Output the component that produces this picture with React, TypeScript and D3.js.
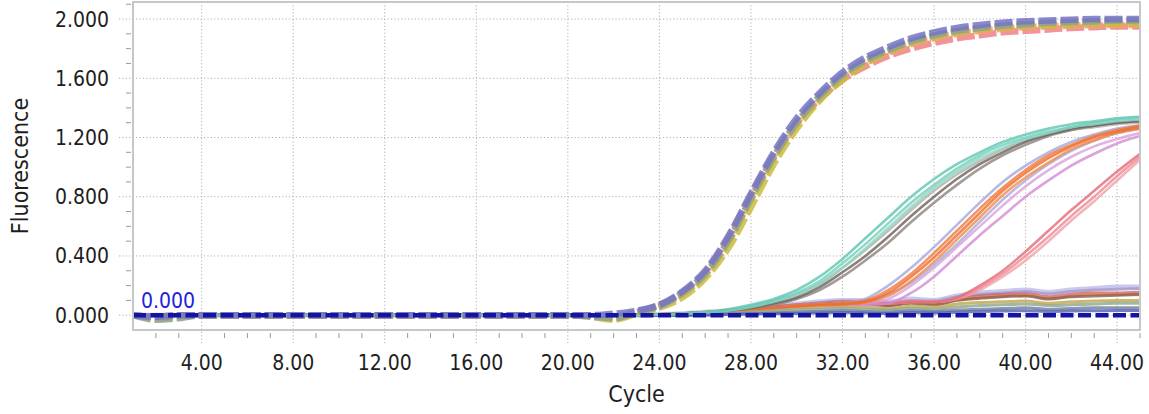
import React from "react";
import * as d3 from "d3";

// ---------- data ----------
const cycles = [1,2,3,4,5,6,7,8,9,10,11,12,13,14,15,16,17,18,19,20,21,22,23,24,25,26,27,28,29,30,31,32,33,34,35,36,37,38,39,40,41,42,43,44,45];

const xTickValues = [4, 8, 12, 16, 20, 24, 28, 32, 36, 40, 44];
const yTickValues = [0, 0.4, 0.8, 1.2, 1.6, 2.0];
const thresholdValue = 0.0;

// early-amplifying group (drawn dashed), c1..c45
const topPurple = [0,-0.01,0,0,0,0,0,0,0,0,0,0,0,0,0,0,0,0,0,0,0,0.01,0.03,0.07,0.16,0.30,0.53,0.82,1.10,1.33,1.50,1.64,1.74,1.81,1.87,1.91,1.94,1.96,1.975,1.985,1.99,1.995,2.0,2.0,2.0];
const topGray = [0,-0.03,-0.02,0,0,0,0,0,0,0,0,0,0,0,0,0,0,0,0,0,-0.01,-0.02,0.02,0.06,0.15,0.28,0.50,0.79,1.07,1.30,1.48,1.62,1.72,1.79,1.85,1.89,1.92,1.94,1.955,1.965,1.975,1.98,1.985,1.99,1.99];
const topYellow = [0,-0.02,-0.01,0,0,0,0,0,0,0,0,0,0,0,0,0,0,0,0,0,-0.01,-0.03,0.01,0.05,0.12,0.25,0.45,0.73,1.02,1.26,1.45,1.59,1.70,1.78,1.84,1.88,1.91,1.93,1.945,1.955,1.96,1.965,1.97,1.97,1.97];
const topOrange = [0,-0.01,0,0,0,0,0,0,0,0,0,0,0,0,0,0,0,0,0,0,0,-0.02,0.02,0.06,0.14,0.27,0.49,0.78,1.06,1.29,1.46,1.60,1.70,1.77,1.83,1.87,1.90,1.92,1.935,1.945,1.95,1.955,1.96,1.96,1.96];
const topRed = [0,-0.01,0,0,0,0,0,0,0,0,0,0,0,0,0,0,0,0,0,0,0,-0.01,0.02,0.07,0.15,0.29,0.52,0.81,1.08,1.30,1.46,1.59,1.68,1.75,1.80,1.84,1.87,1.89,1.91,1.92,1.93,1.94,1.945,1.95,1.95];

// later-amplifying samples, c1..c45
const teal1 = [0,0,0,0,0,0,0,0,0,0,0,0,0,0,0,0,0,0,0,0,0,0,0,0.005,0.01,0.02,0.04,0.07,0.11,0.17,0.26,0.38,0.52,0.66,0.80,0.92,1.02,1.10,1.17,1.22,1.26,1.29,1.31,1.33,1.34];
const teal2 = [0,0,0,0,0,0,0,0,0,0,0,0,0,0,0,0,0,0,0,0,0,0,0,0.005,0.01,0.02,0.035,0.06,0.10,0.15,0.23,0.35,0.48,0.62,0.76,0.88,0.99,1.08,1.15,1.20,1.24,1.27,1.30,1.32,1.33];
const teal3 = [0,0,0,0,0,0,0,0,0,0,0,0,0,0,0,0,0,0,0,0,0,0,0,0.005,0.01,0.02,0.03,0.055,0.09,0.14,0.21,0.32,0.45,0.59,0.73,0.86,0.97,1.06,1.13,1.19,1.23,1.27,1.29,1.31,1.32];
const gray1 = [0,0,0,0,0,0,0,0,0,0,0,0,0,0,0,0,0,0,0,0,0,0,0,0.005,0.01,0.02,0.03,0.05,0.08,0.12,0.19,0.29,0.40,0.53,0.67,0.80,0.92,1.02,1.10,1.17,1.22,1.26,1.28,1.30,1.31];
const gray2 = [0,0,0,0,0,0,0,0,0,0,0,0,0,0,0,0,0,0,0,0,0,0,0,0.005,0.01,0.02,0.03,0.055,0.09,0.14,0.21,0.32,0.44,0.57,0.71,0.84,0.95,1.04,1.12,1.18,1.22,1.25,1.27,1.29,1.30];
const gray3 = [0,0,0,0,0,0,0,0,0,0,0,0,0,0,0,0,0,0,0,0,0,0,0,0.005,0.01,0.02,0.03,0.045,0.07,0.11,0.17,0.26,0.37,0.49,0.63,0.76,0.88,0.99,1.08,1.15,1.21,1.25,1.28,1.30,1.31];
const orange1 = [0,0,0,0,0,0,0,0,0,0,0,0,0,0,0,0,0,0,0,0,0,0,0,0.005,0.01,0.02,0.03,0.04,0.05,0.06,0.07,0.075,0.09,0.15,0.26,0.39,0.54,0.69,0.84,0.96,1.06,1.14,1.20,1.24,1.27];
const orange2 = [0,0,0,0,0,0,0,0,0,0,0,0,0,0,0,0,0,0,0,0,0,0,0,0.005,0.01,0.02,0.03,0.04,0.05,0.06,0.07,0.08,0.10,0.17,0.28,0.42,0.57,0.72,0.86,0.98,1.08,1.15,1.21,1.25,1.28];
const orange3 = [0,0,0,0,0,0,0,0,0,0,0,0,0,0,0,0,0,0,0,0,0,0,0,0.005,0.01,0.02,0.03,0.04,0.05,0.06,0.065,0.07,0.085,0.13,0.23,0.36,0.51,0.66,0.81,0.93,1.03,1.12,1.18,1.23,1.26];
const lav1 = [0,0,0,0,0,0,0,0,0,0,0,0,0,0,0,0,0,0,0,0,0,0,0,0.005,0.01,0.02,0.03,0.04,0.05,0.06,0.07,0.08,0.11,0.20,0.32,0.46,0.61,0.76,0.90,1.01,1.10,1.17,1.22,1.26,1.28];
const lav2 = [0,0,0,0,0,0,0,0,0,0,0,0,0,0,0,0,0,0,0,0,0,0,0,0.005,0.01,0.02,0.03,0.04,0.05,0.06,0.065,0.07,0.09,0.14,0.22,0.34,0.48,0.63,0.78,0.91,1.02,1.11,1.18,1.23,1.26];
const pink1 = [0,0,0,0,0,0,0,0,0,0,0,0,0,0,0,0,0,0,0,0,0,0,0,0.005,0.01,0.02,0.03,0.04,0.05,0.06,0.065,0.07,0.07,0.08,0.15,0.26,0.40,0.54,0.67,0.80,0.91,1.01,1.09,1.16,1.21];
const pink2 = [0,0,0,0,0,0,0,0,0,0,0,0,0,0,0,0,0,0,0,0,0,0,0,0.005,0.01,0.02,0.03,0.04,0.05,0.06,0.065,0.07,0.08,0.11,0.20,0.32,0.46,0.60,0.74,0.87,0.98,1.07,1.14,1.19,1.23];
const red1 = [0,0,0,0,0,0,0,0,0,0,0,0,0,0,0,0,0,0,0,0,0,0,0,0.005,0.01,0.02,0.03,0.04,0.05,0.06,0.07,0.08,0.085,0.08,0.09,0.09,0.12,0.20,0.30,0.43,0.57,0.71,0.84,0.97,1.09];
const red2 = [0,0,0,0,0,0,0,0,0,0,0,0,0,0,0,0,0,0,0,0,0,0,0,0.005,0.01,0.02,0.03,0.04,0.05,0.06,0.07,0.08,0.085,0.08,0.09,0.09,0.11,0.17,0.26,0.37,0.50,0.64,0.77,0.91,1.05];
const red3 = [0,0,0,0,0,0,0,0,0,0,0,0,0,0,0,0,0,0,0,0,0,0,0,0.005,0.01,0.02,0.03,0.04,0.05,0.06,0.07,0.08,0.085,0.08,0.09,0.09,0.115,0.185,0.28,0.40,0.53,0.67,0.80,0.94,1.07];

// non-amplifying / low samples, c1..c45
const lowLav = [0,0,0,0,0,0,0,0,0,0,0,0,0,0,0,0,0,0,0,0,0,0,0,0.005,0.01,0.02,0.03,0.045,0.06,0.075,0.09,0.10,0.10,0.09,0.11,0.10,0.13,0.15,0.16,0.17,0.155,0.17,0.18,0.19,0.19];
const lowPurple = [0,0,0,0,0,0,0,0,0,0,0,0,0,0,0,0,0,0,0,0,0,0,0,0.005,0.01,0.02,0.03,0.045,0.06,0.07,0.085,0.095,0.095,0.085,0.10,0.095,0.125,0.14,0.15,0.16,0.145,0.16,0.17,0.175,0.18];
const lowRed = [0,0,0,0,0,0,0,0,0,0,0,0,0,0,0,0,0,0,0,0,0,0,0,0.005,0.01,0.02,0.03,0.04,0.055,0.07,0.08,0.09,0.085,0.07,0.09,0.08,0.11,0.13,0.14,0.145,0.125,0.14,0.15,0.15,0.155];
const lowOrange = [0,0,0,0,0,0,0,0,0,0,0,0,0,0,0,0,0,0,0,0,0,0,0,0.005,0.01,0.02,0.03,0.04,0.05,0.065,0.075,0.085,0.08,0.065,0.085,0.075,0.105,0.12,0.13,0.135,0.115,0.13,0.14,0.14,0.145];
const lowBrown = [0,0,0,0,0,0,0,0,0,0,0,0,0,0,0,0,0,0,0,0,0,0,0,0.005,0.01,0.015,0.025,0.035,0.05,0.06,0.07,0.08,0.075,0.065,0.08,0.07,0.10,0.115,0.125,0.13,0.11,0.125,0.13,0.135,0.14];
const lowOlive = [0,0,0,0,0,0,0,0,0,0,0,0,0,0,0,0,0,0,0,0,0,0,0,0.005,0.01,0.015,0.02,0.03,0.04,0.05,0.055,0.06,0.055,0.045,0.06,0.055,0.075,0.085,0.09,0.095,0.08,0.09,0.095,0.10,0.10];
const lowGreen = [0,0,0,0,0,0,0,0,0,0,0,0,0,0,0,0,0,0,0,0,0,0,0,0,0.005,0.01,0.015,0.02,0.03,0.035,0.04,0.045,0.04,0.035,0.045,0.04,0.055,0.065,0.07,0.075,0.065,0.07,0.075,0.08,0.08];
const lowSlate = [0,0,0,0,0,0,0,0,0,0,0,0,0,0,0,0,0,0,0,0,0,0,0,0,0,0.005,0.008,0.01,0.015,0.02,0.025,0.03,0.025,0.02,0.03,0.025,0.035,0.04,0.045,0.05,0.04,0.045,0.05,0.05,0.05];
const lowBlue = [0,0,0,0,0,0,0,0,0,0,0,0,0,0,0,0,0,0,0,0,0,0,0,0,0,0,0.005,0.008,0.01,0.012,0.015,0.018,0.015,0.012,0.018,0.015,0.02,0.025,0.028,0.03,0.025,0.028,0.03,0.032,0.032];

// ---------- series styling ----------
const lowSeries = [
  { v: lowLav, c: "#bcbcea", w: 5 },
  { v: lowPurple, c: "#a898cc", w: 3 },
  { v: lowRed, c: "#d4606a", w: 3 },
  { v: lowOrange, c: "#e0905a", w: 3 },
  { v: lowBrown, c: "#8e5e4c", w: 3 },
  { v: lowOlive, c: "#bca84c", w: 3 },
  { v: lowGreen, c: "#8fa48a", w: 3 },
  { v: lowSlate, c: "#6f7c9c", w: 3 },
  { v: lowBlue, c: "#5060b0", w: 3 },
];
const midSeries = [
  { v: red2, c: "#f0a0aa" },
  { v: red3, c: "#ec8890" },
  { v: red1, c: "#e46a78" },
  { v: pink2, c: "#dca0dc" },
  { v: pink1, c: "#d48ad4" },
  { v: lav1, c: "#a4a8e0" },
  { v: lav2, c: "#a8acdc" },
  { v: orange3, c: "#f48a4c" },
  { v: orange2, c: "#f07a3c" },
  { v: orange1, c: "#ee6a2a" },
  { v: gray2, c: "#b4aea8" },
  { v: gray3, c: "#8c827c" },
  { v: gray1, c: "#6c605a" },
  { v: teal3, c: "#8ad8c6" },
  { v: teal2, c: "#74d0bc" },
  { v: teal1, c: "#5ec6b0" },
];
const topSeries = [
  { v: topRed, c: "#f08088" },
  { v: topOrange, c: "#f2a070" },
  { v: topYellow, c: "#c8bc3c" },
  { v: topGray, c: "#8fa08c" },
  { v: topPurple, c: "#7474c4" },
];

const W = 1149;
const H = 414;
const left = 133, right = 1140, top = 2, bottom = 330;
const tickFont = "'DejaVu Sans Condensed', 'DejaVu Sans', sans-serif";

export default function App() {
  const x = d3.scaleLinear().domain([1, 45]).range([left, right]);
  const y = d3.scaleLinear().domain([-0.1, 2.115]).range([bottom, top]);
  const line = d3
    .line<number>()
    .x((_, i) => x(cycles[i]))
    .y((d) => y(d))
    .curve(d3.curveMonotoneX);

  const xMinor = x.ticks(44).filter((t) => Number.isInteger(t) && t >= 2 && !xTickValues.includes(t));
  const yMinor = y.ticks(22).filter((t) => t > -0.05 && !yTickValues.some((m) => Math.abs(m - t) < 1e-6));
  const fx = d3.format(".2f");
  const fy = d3.format(".3f");

  return (
    <svg width={W} height={H} style={{ position: "absolute", left: 0, top: 0, background: "#fff" }}>
      <defs>
        <clipPath id="plot">
          <rect x={left} y={top} width={right - left} height={bottom - top} />
        </clipPath>
      </defs>
      {/* grid */}
      {xTickValues.map((t) => (
        <line key={"gx" + t} x1={x(t)} x2={x(t)} y1={top} y2={bottom + 14} stroke="#b0b0b0" strokeDasharray="1.2,2.2" />
      ))}
      {yTickValues.map((t) => (
        <line key={"gy" + t} x1={left - 14} x2={right} y1={y(t)} y2={y(t)} stroke="#b0b0b0" strokeDasharray="1.2,2.2" />
      ))}
      {/* minor ticks */}
      {xMinor.map((t) => (
        <line key={"mx" + t} x1={x(t)} x2={x(t)} y1={bottom + 3} y2={bottom + 8} stroke="#9a9a9a" />
      ))}
      {yMinor.map((t) => (
        <line key={"my" + t} x1={left - 7} x2={left - 2} y1={y(t)} y2={y(t)} stroke="#9a9a9a" />
      ))}
      {/* curves */}
      <g clipPath="url(#plot)" fill="none" strokeLinejoin="round">
        {lowSeries.map((s, i) => (
          <path key={"lo" + i} d={line(s.v) || ""} stroke={s.c} strokeWidth={s.w} opacity={0.8} />
        ))}
        {midSeries.map((s, i) => (
          <path key={"mid" + i} d={line(s.v) || ""} stroke={s.c} strokeWidth={2.6} opacity={0.8} />
        ))}
        {topSeries.map((s, i) => (
          <path key={"top" + i} d={line(s.v) || ""} stroke={s.c} strokeWidth={6.5} strokeDasharray="18,4" opacity={0.85} />
        ))}
        <line x1={left} x2={right} y1={y(thresholdValue)} y2={y(thresholdValue)} stroke="#1414a4" strokeWidth={4.5} strokeDasharray="13,4.5" />
      </g>
      <text x={141} y={308} fontFamily={tickFont} fontSize={21} fill="#2222dd">
        {fy(thresholdValue)}
      </text>
      {/* frame */}
      <rect x={left} y={top} width={right - left} height={bottom - top} fill="none" stroke="#c4c8cc" strokeWidth={2} />
      {/* tick labels */}
      {yTickValues.map((t) => (
        <text key={"ly" + t} x={109} y={y(t) + 7.5} textAnchor="end" fontFamily={tickFont} fontSize={21} fill="#1e1e1e">
          {fy(t)}
        </text>
      ))}
      {xTickValues.map((t) => (
        <text key={"lx" + t} x={x(t)} y={370} textAnchor="middle" fontFamily={tickFont} fontSize={21} fill="#1e1e1e">
          {fx(t)}
        </text>
      ))}
      {/* axis titles */}
      <text x={(left + right) / 2} y={402} textAnchor="middle" fontFamily={tickFont} fontSize={23} fill="#1e1e1e">
        Cycle
      </text>
      <text transform={`translate(28,${(top + bottom) / 2}) rotate(-90)`} textAnchor="middle" fontFamily={tickFont} fontSize={23} fill="#1e1e1e">
        Fluorescence
      </text>
    </svg>
  );
}
